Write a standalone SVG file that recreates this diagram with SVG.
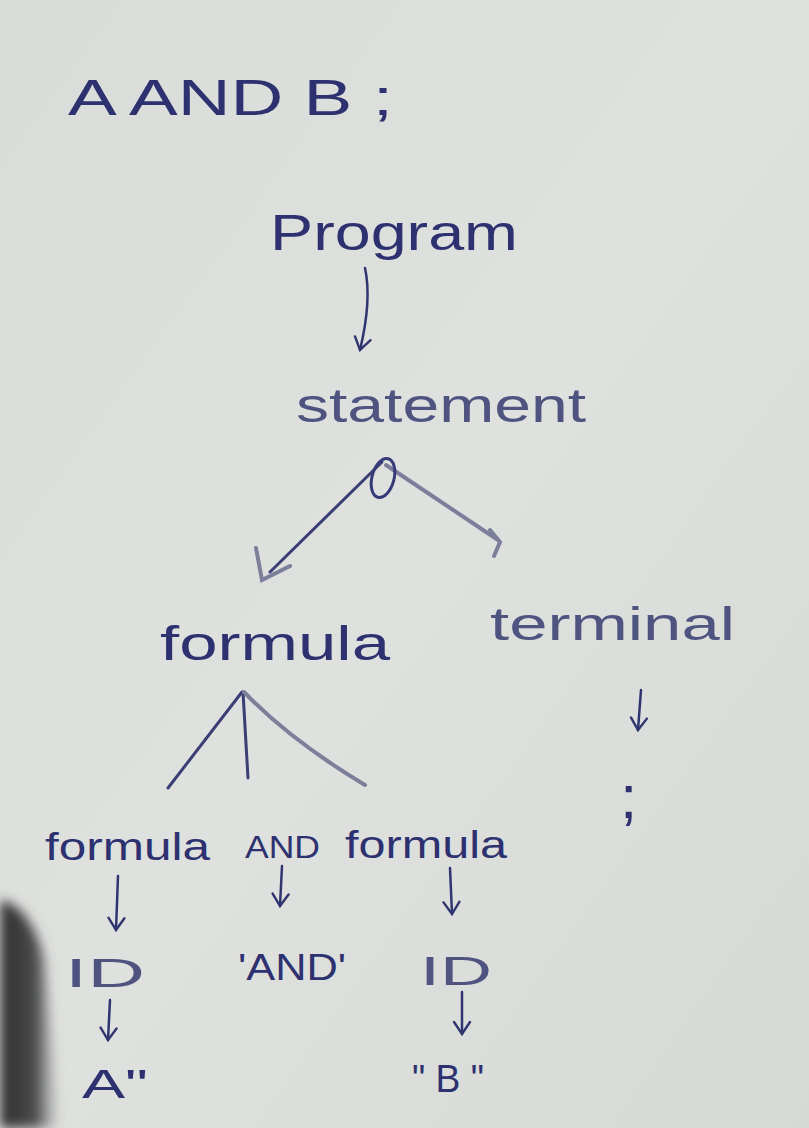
<svg xmlns="http://www.w3.org/2000/svg" width="809" height="1128" viewBox="0 0 809 1128">
<defs>
<linearGradient id="paper" x1="0" y1="0" x2="1" y2="1">
<stop offset="0" stop-color="#d9dcd8"/>
<stop offset="0.5" stop-color="#dfe1de"/>
<stop offset="1" stop-color="#d6d9d5"/>
</linearGradient>
<linearGradient id="shadow" x1="0" y1="0" x2="1" y2="0">
<stop offset="0" stop-color="#2e2f30"/>
<stop offset="0.6" stop-color="#4a4b4c"/>
<stop offset="1" stop-color="#8a8c8b" stop-opacity="0"/>
</linearGradient>
<filter id="blur"><feGaussianBlur stdDeviation="6"/></filter>
<marker id="head" viewBox="0 0 16 20" refX="14" refY="10" markerWidth="16" markerHeight="20" markerUnits="userSpaceOnUse" orient="auto">
<path d="M2,2 L14,10 L2,18" fill="none" stroke="#303570" stroke-width="2.4" stroke-linecap="round"/>
</marker>
</defs>
<style>
.ink{font-family:"Liberation Sans","DejaVu Sans",sans-serif;fill:#2d3170;}
.faint{fill:#4e5380;}
.line{stroke:#3a3e74;stroke-width:3;fill:none;stroke-linecap:round;}
.soft{stroke:#7c7f99;stroke-width:4;fill:none;stroke-linecap:round;}
.arrow{stroke:#303570;stroke-width:2.5;fill:none;stroke-linecap:round;}
</style>
<rect width="809" height="1128" fill="url(#paper)"/>
<path d="M0,900 Q30,905 45,960 L60,1128 L0,1128 Z" fill="url(#shadow)" filter="url(#blur)"/>

<g id="title"><text class="ink" x="68" y="115" font-size="50" textLength="325" lengthAdjust="spacingAndGlyphs">A  AND  B ;</text></g>

<g id="program"><text class="ink" x="270" y="250" font-size="50" textLength="248" lengthAdjust="spacingAndGlyphs">Program</text></g>
<g id="statement"><text class="ink faint" x="296" y="422" font-size="48" textLength="290" lengthAdjust="spacingAndGlyphs">statement</text></g>
<g id="formula-top"><text class="ink" x="160" y="660" font-size="48" textLength="230" lengthAdjust="spacingAndGlyphs">formula</text></g>
<g id="terminal"><text class="ink faint" x="490" y="640" font-size="46" textLength="245" lengthAdjust="spacingAndGlyphs">terminal</text></g>
<g id="semicolon"><text class="ink" x="620" y="818" font-size="62">;</text></g>
<g id="formula-left"><text class="ink" x="45" y="860" font-size="38" textLength="165" lengthAdjust="spacingAndGlyphs">formula</text></g>
<g id="and-node"><text class="ink" x="245" y="858" font-size="32" textLength="75" lengthAdjust="spacingAndGlyphs">AND</text></g>
<g id="formula-right"><text class="ink" x="345" y="858" font-size="38" textLength="162" lengthAdjust="spacingAndGlyphs">formula</text></g>
<g id="id-left"><text class="ink faint" x="65" y="987" font-size="40" textLength="80" lengthAdjust="spacingAndGlyphs">ID</text></g>
<g id="and-literal"><text class="ink" x="238" y="980" font-size="36" textLength="108" lengthAdjust="spacingAndGlyphs">'AND'</text></g>
<g id="id-right"><text class="ink faint" x="420" y="985" font-size="40" textLength="72" lengthAdjust="spacingAndGlyphs">ID</text></g>
<g id="a-literal"><text class="ink" x="82" y="1098" font-size="40" textLength="66" lengthAdjust="spacingAndGlyphs">A"</text></g>
<g id="b-literal"><text class="ink" x="412" y="1092" font-size="38" textLength="72" lengthAdjust="spacingAndGlyphs">" B "</text></g>

<g id="connectors">
<path class="arrow" d="M365,268 Q372,300 360,350" marker-end="url(#head)"/>
<path class="line" d="M382,462 L270,572"/>
<path class="soft" d="M256,548 L262,580 L290,566"/>
<path class="soft" d="M386,465 L498,540"/>
<path class="soft" d="M490,530 L500,542 L494,556"/>
<ellipse cx="383" cy="478" rx="11" ry="20" fill="none" stroke="#353a78" stroke-width="3" transform="rotate(15 383 478)"/>
<path class="arrow" d="M641,690 L638,730" marker-end="url(#head)"/>
<path class="line" d="M242,692 L168,788"/>
<path class="line" d="M243,692 L248,778"/>
<path class="soft" d="M244,692 Q290,740 365,785"/>
<path class="arrow" d="M118,876 L116,930" marker-end="url(#head)"/>
<path class="arrow" d="M282,866 L280,906" marker-end="url(#head)"/>
<path class="arrow" d="M450,868 L452,914" marker-end="url(#head)"/>
<path class="arrow" d="M110,1000 L108,1040" marker-end="url(#head)"/>
<path class="arrow" d="M462,992 L462,1034" marker-end="url(#head)"/>
</g>
</svg>
